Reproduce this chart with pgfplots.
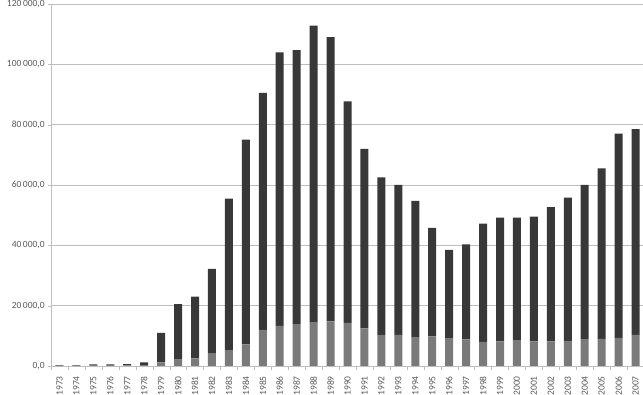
\documentclass[border=0pt]{standalone}
\usepackage{pgfplots}
\pgfplotsset{compat=1.18}
\usepackage{pgfplotstable}
\usepackage{fontspec}
\setmainfont{Carlito}
\definecolor{darkbar}{HTML}{383838}
\definecolor{graybar}{HTML}{7A7A7A}
\definecolor{txt}{HTML}{595959}
\definecolor{gridc}{HTML}{BEBEBE}
\pgfplotstableread{
x year low high
0 1973 100 200
1 1974 100 200
2 1975 150 350
3 1976 150 350
4 1977 200 400
5 1978 300 900
6 1979 1200 9800
7 1980 2100 18400
8 1981 2500 20500
9 1982 4300 27900
10 1983 5300 50200
11 1984 7200 67800
12 1985 12000 78500
13 1986 13300 90700
14 1987 13900 90800
15 1988 14400 98400
16 1989 14800 94200
17 1990 14300 73400
18 1991 12500 59500
19 1992 10200 52300
20 1993 10300 49700
21 1994 9400 45300
22 1995 9800 36000
23 1996 9100 29400
24 1997 8800 31500
25 1998 8000 39200
26 1999 8200 41000
27 2000 8400 40800
28 2001 8200 41300
29 2002 8200 44500
30 2003 8300 47500
31 2004 8900 51100
32 2005 9000 56500
33 2006 9300 67700
34 2007 10300 68200
}\data
\begin{document}
\fontsize{9.5}{11}\selectfont
\begin{tikzpicture}[x=1pt,y=1pt]
\useasboundingbox (0,0) rectangle (643,395);
\begin{axis}[
  at={(51pt,29pt)}, anchor=south west,
  scale only axis, width=592pt, height=362pt,
  ybar stacked, bar width=8pt,
  xmin=-0.5, xmax=34.44,
  ymin=0, ymax=120000,
  ytick={0,20000,...,120000},
  yticklabel={\pgfmathprintnumber[fixed,precision=1,zerofill,use comma,1000 sep={\,},assume math mode=true]{\tick}},
  scaled y ticks=false,
  xtick={0,...,34},
  xticklabels from table={\data}{year},
  xticklabel style={rotate=90, anchor=east, font=\fontsize{9.5}{11}\selectfont, text=txt},
  xticklabel shift=4pt,
  yticklabel style={text=txt, font=\fontsize{9.5}{11}\selectfont},
  minor xtick={-0.5,0.5,...,34.5},
  major x tick style={draw=none},
  minor x tick style={draw=gridc},
  minor tick length=4pt,
  major tick length=3pt,
  y tick style={draw=gridc},
  tick align=outside,
  xtick pos=bottom, ytick pos=left,
  ymajorgrids, grid style={draw=gridc, line width=0.9pt},
  axis x line*=bottom, axis y line*=left,
  axis line style={draw=gridc, line width=0.8pt},
  x axis line style={-}, y axis line style={-},
  clip=false,
]
\addplot[fill=graybar, draw=none] table[x=x,y=low]{\data};
\addplot[fill=darkbar, draw=none] table[x=x,y=high]{\data};
\end{axis}
\end{tikzpicture}
\end{document}
